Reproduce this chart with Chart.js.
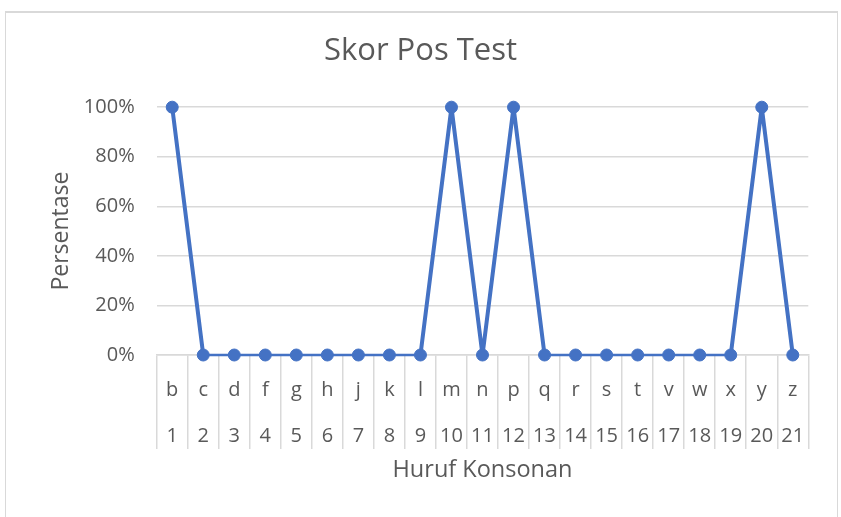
<!DOCTYPE html>
<html>
<head>
<meta charset="utf-8">
<script src="https://cdn.jsdelivr.net/npm/chart.js@4.4.1/dist/chart.umd.min.js"></script>
<style>
  html, body { margin: 0; padding: 0; background: #ffffff; }
  #wrap { position: relative; width: 841px; height: 517px; overflow: hidden; }
  #frame {
    position: absolute; left: 5px; top: 11px; width: 831px; height: 520px;
    border: 1px solid #d9d9d9; border-top: 2px solid #d9d9d9;
  }
  #chart { position: absolute; left: 0; top: 0; }
</style>
</head>
<body>
<div id="wrap">
  <div id="frame"></div>
  <canvas id="chart" width="841" height="517"></canvas>
</div>
<script>
"use strict";

const letters = ["b", "c", "d", "f", "g", "h", "j", "k", "l", "m", "n",
  "p", "q", "r", "s", "t", "v", "w", "x", "y", "z"];
const numbers = ["1", "2", "3", "4", "5", "6", "7", "8", "9", "10", "11",
  "12", "13", "14", "15", "16", "17", "18", "19", "20", "21"];
const scores = [100, 0, 0, 0, 0, 0, 0, 0, 0, 100, 0,
  100, 0, 0, 0, 0, 0, 0, 0, 100, 0];
const yTicks = [0, 20, 40, 60, 80, 100];

const LINE_COLOR = "#4472c4";
const TEXT_COLOR = "#595959";
const GRID_COLOR = "#d9d9d9";
const FONT = '"Open Sans", sans-serif';

const labels = letters.map((letter, i) => [letter, numbers[i]]);

const context = document.getElementById("chart").getContext("2d");
new Chart(context, {
  type: "line",
  data: {
    labels: labels,
    datasets: [{
      label: "Skor",
      data: scores,
      clip: false,
      borderColor: LINE_COLOR,
      backgroundColor: LINE_COLOR,
      borderWidth: 4,
      borderJoinStyle: "round",
      borderCapStyle: "round",
      pointRadius: 6,
      pointBorderWidth: 1,
      pointBorderColor: LINE_COLOR,
      pointBackgroundColor: LINE_COLOR,
      tension: 0,
      segment: {
        borderWidth: (ctx) => (ctx.p0.parsed.y === 0 && ctx.p1.parsed.y === 0 ? 2.5 : 4),
      },
    }],
  },
  options: {
    responsive: false,
    animation: false,
    layout: { padding: 0 },
    plugins: {
      legend: { display: false },
      tooltip: { enabled: false },
      title: {
        display: true,
        text: "Skor Pos Test",
        color: TEXT_COLOR,
        font: { family: FONT, size: 31, weight: "normal", lineHeight: 1.2 },
        padding: { top: 33, bottom: 37 },
      },
    },
    scales: {
      x: {
        type: "category",
        offset: true,
        afterFit: (scale) => { scale.height = 162; },
        grid: {
          display: true,
          offset: true,
          drawOnChartArea: false,
          drawTicks: true,
          tickLength: 94,
          color: GRID_COLOR,
          lineWidth: 1.5,
        },
        border: { display: true, color: GRID_COLOR, width: 1.5 },
        ticks: {
          color: TEXT_COLOR,
          font: { family: FONT, size: 20, lineHeight: 2.3 },
          padding: -82,
          maxRotation: 0,
          autoSkip: false,
        },
        title: {
          display: true,
          text: "Huruf Konsonan",
          color: TEXT_COLOR,
          font: { family: FONT, size: 23.5, lineHeight: 1.2 },
          padding: { top: 0, bottom: 33 },
        },
      },
      y: {
        min: 0,
        max: 100,
        afterFit: (scale) => { scale.width = 156.7; },
        afterBuildTicks: (scale) => {
          scale.ticks = yTicks.map((value) => ({ value }));
        },
        grid: {
          color: GRID_COLOR,
          lineWidth: 1.5,
          drawTicks: false,
        },
        border: { display: false },
        ticks: {
          color: TEXT_COLOR,
          font: { family: FONT, size: 20 },
          padding: 22,
          callback: (value) => `${value}%`,
        },
        title: {
          display: true,
          text: "Persentase",
          color: TEXT_COLOR,
          font: { family: FONT, size: 23, lineHeight: 1.2 },
          padding: { top: 48, bottom: 0 },
        },
      },
      yRight: {
        position: "right",
        display: true,
        afterFit: (scale) => { scale.width = 32.7; },
        grid: { display: false },
        border: { display: false },
        ticks: { display: false },
      },
    },
  },
});
</script>
</body>
</html>
